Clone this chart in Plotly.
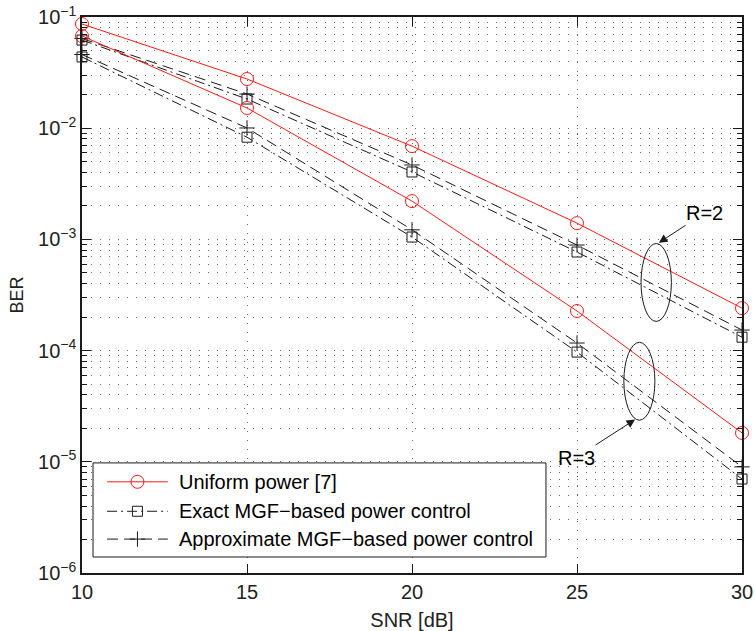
import numpy as np
import plotly.graph_objects as go

# SNR sweep (dB)
snr = [10, 15, 20, 25, 30]

# BER curves, two rate settings (R=2 upper group, R=3 lower group)
uniform_r2 = [0.0865, 0.0277, 0.0069, 0.0014, 2.41e-4]
uniform_r3 = [0.0675, 0.0152, 0.00221, 2.27e-4, 1.82e-5]
exact_r2 = [0.062, 0.0183, 0.00404, 7.7e-4, 1.32e-4]
exact_r3 = [0.0437, 0.0083, 1.05e-3, 9.7e-5, 7.0e-6]
approx_r2 = [0.064, 0.0203, 0.00467, 8.9e-4, 1.53e-4]
approx_r3 = [0.046, 0.01005, 1.22e-3, 1.17e-4, 9.0e-6]

legend_names = ["Uniform power [7]",
                "Exact MGF\u2212based power control",
                "Approximate MGF\u2212based power control"]

x_ticks = [10, 15, 20, 25, 30]
y_decades = [-6, -5, -4, -3, -2, -1]
y_ticktext = ["10<sup>\u2212%d</sup>" % (-d) for d in y_decades]

FONT = "Liberation Sans, Arial, Helvetica, sans-serif"
RED = "#ff1a1a"
BLK = "#1a1a1a"
GRID = "#666666"
DOTS = "1px,8px"
DASHDOT = "10px,4px,2px,4px"
DASHED = "11px,6px"

fig = go.Figure()

styles = [
    (exact_r2, exact_r3, dict(color=BLK, width=1, dash=DASHDOT),
     dict(symbol="square-open", size=10, color=BLK, line=dict(width=1, color=BLK))),
    (approx_r2, approx_r3, dict(color=BLK, width=1, dash=DASHED),
     dict(symbol="cross-thin-open", size=11, color=BLK, line=dict(width=1, color=BLK))),
    (uniform_r2, uniform_r3, dict(color=RED, width=1),
     dict(symbol="circle-open", size=13, color=RED, line=dict(width=1, color=RED))),
]
for r2, r3, ln, mk in styles:
    for ys in (r2, r3):
        fig.add_trace(go.Scatter(x=snr, y=ys, mode="lines+markers",
                                 line=ln, marker=mk, showlegend=False,
                                 cliponaxis=False, hoverinfo="skip"))

# Legend box drawn on an overlay axis spanning the plot area (0..1 both ways)
lx0, lx1, ly0, ly1 = 0.0167, 0.703, 0.0288, 0.198
fig.add_trace(go.Scatter(x=[lx0, lx1, lx1, lx0, lx0], y=[ly0, ly0, ly1, ly1, ly0],
                         mode="lines", fill="toself", fillcolor="white",
                         line=dict(color=BLK, width=1), xaxis="x2", yaxis="y2",
                         showlegend=False, hoverinfo="skip"))
row_y = [0.164, 0.111, 0.061]
sx0, sx1, smid, tx = 0.038, 0.130, 0.084, 0.144
for (r2, r3, ln, mk), yy, name in zip([styles[2], styles[0], styles[1]], row_y, legend_names):
    fig.add_trace(go.Scatter(x=[sx0, sx1], y=[yy, yy], mode="lines", line=ln,
                             xaxis="x2", yaxis="y2", showlegend=False, hoverinfo="skip"))
    fig.add_trace(go.Scatter(x=[smid], y=[yy], mode="markers", marker=mk,
                             xaxis="x2", yaxis="y2", showlegend=False, hoverinfo="skip"))
    fig.add_annotation(x=tx, y=yy, xref="paper", yref="paper", text=name,
                       showarrow=False, xanchor="left", yanchor="middle",
                       font=dict(family=FONT, size=20, color="black"))

# Ellipses grouping each rate setting (x in dB, y given as BER centre and half-height in decades)
for xc, yc, hx, hdec in [(27.40, 4.1e-4, 0.46, 0.35), (26.89, 5.3e-5, 0.47, 0.35)]:
    lc = np.log10(yc)
    fig.add_shape(type="circle", xref="x", yref="y domain",
                  x0=xc - hx, x1=xc + hx,
                  y0=(lc - hdec + 6) / 5, y1=(lc + hdec + 6) / 5,
                  line=dict(color=BLK, width=1), layer="above")

# Rate labels, each with an arrow pointing at its ellipse (arrow tip in data coords, log10 for y)
for label, tip_x, tip_logy, off_x, off_y in [("R=2", 27.48, -3.03, 46, -30),
                                              ("R=3", 26.76, -4.62, -59, 38)]:
    fig.add_annotation(x=tip_x, y=tip_logy, xref="x", yref="y", ax=off_x, ay=off_y,
                       text=label, showarrow=True, arrowhead=2, arrowsize=1.7,
                       arrowwidth=1, arrowcolor=BLK, standoff=0,
                       font=dict(family=FONT, size=20, color="black"))

minor_y = [k * 10.0 ** e for e in range(-6, -1) for k in range(2, 10)]

fig.update_layout(
    width=755, height=631,
    margin=dict(l=82, r=13, t=17, b=58),
    paper_bgcolor="white", plot_bgcolor="white",
    font=dict(family=FONT, size=20, color="#222222"),
    xaxis=dict(
        range=[10, 30], tickvals=x_ticks, ticks="inside", ticklen=9,
        tickcolor=BLK, showline=True, linecolor=BLK, linewidth=1.5, mirror="ticks",
        showgrid=True, gridcolor=GRID, griddash=DOTS, gridwidth=1,
        zeroline=False, automargin=False,
        title=dict(text="SNR [dB]", font=dict(size=20), standoff=14),
        tickfont=dict(size=20),
    ),
    yaxis=dict(
        type="log", range=[-6, -1],
        tickvals=[10.0 ** d for d in y_decades], ticktext=y_ticktext,
        ticks="inside", ticklen=9, tickcolor=BLK,
        showline=True, linecolor=BLK, linewidth=1.5, mirror="ticks",
        showgrid=True, gridcolor=GRID, griddash=DOTS, gridwidth=1,
        minor=dict(tickvals=minor_y, ticks="inside", ticklen=5, tickcolor=BLK,
                   showgrid=True, gridcolor=GRID, griddash=DOTS, gridwidth=1),
        zeroline=False, automargin=False,
        title=dict(text="BER", font=dict(size=18), standoff=10),
        tickfont=dict(size=20),
    ),
    xaxis2=dict(overlaying="x", range=[0, 1], visible=False, fixedrange=True),
    yaxis2=dict(overlaying="y", range=[0, 1], visible=False, fixedrange=True),
)

fig.write_html("out.html")
